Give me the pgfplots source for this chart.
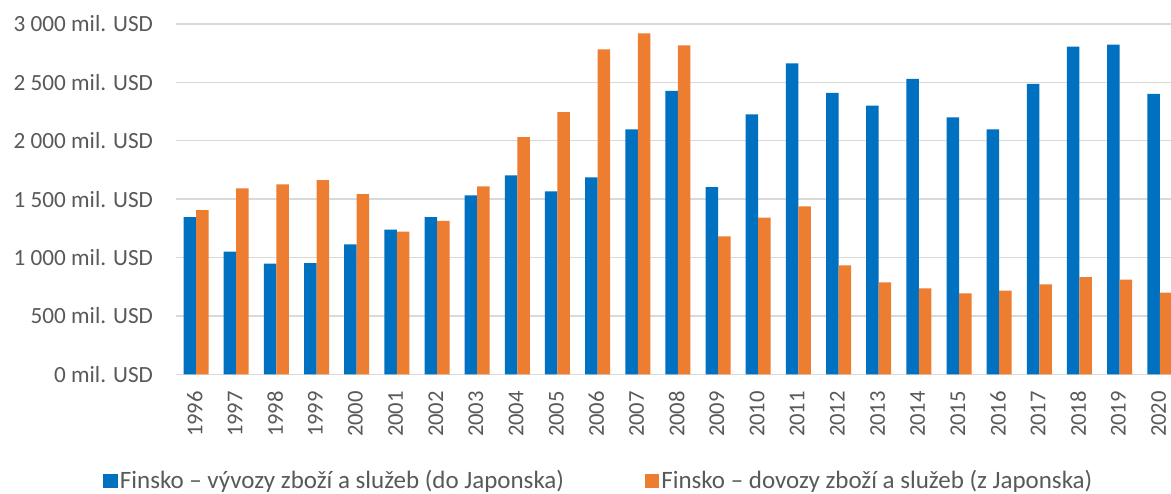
\documentclass[border=0pt]{standalone}
\usepackage{fontspec}
\setmainfont{Carlito}
\usepackage{pgfplots}
\pgfplotsset{compat=1.18}

\definecolor{exblue}{HTML}{0070C0}
\definecolor{imorange}{HTML}{ED7D31}
\definecolor{gridgray}{HTML}{D9D9D9}
\definecolor{txtgray}{HTML}{595959}

\begin{document}
\begin{tikzpicture}
  \begin{axis}[
    at={(0pt,0pt)}, anchor=south west,
    scale only axis,
    width=497.5pt, height=175.15pt,
    xmin=-0.5, xmax=24.28,
    ymin=0, ymax=3000,
    ybar=0pt, bar width=6.25pt,
    axis line style={draw=none},
    axis x line*=bottom,
    ymajorgrids,
    grid style={draw=gridgray, line width=0.7pt},
    major tick length=0pt,
    xtick={0,...,24},
    xticklabels={1996,1997,1998,1999,2000,2001,2002,2003,2004,2005,2006,2007,2008,
      2009,2010,2011,2012,2013,2014,2015,2016,2017,2018,2019,2020},
    ytick={0,500,1000,1500,2000,2500,3000},
    yticklabels={0 mil. USD,500 mil. USD,1 000 mil. USD,1 500 mil. USD,
      2 000 mil. USD,2 500 mil. USD,3 000 mil. USD},
    tick label style={font=\fontsize{11.6}{13}\selectfont, text=txtgray, inner sep=0pt},
    yticklabel style={xshift=-11.3pt},
    xticklabel style={rotate=90, anchor=east, xshift=-8.2pt, yshift=0.6pt,
      font=\fontsize{11.3}{13}\selectfont},
    legend columns=2,
    legend style={at={(axis description cs:0.4251,0)}, anchor=center, yshift=-53.4pt,
      draw=none, fill=none, font=\fontsize{12.5}{14}\selectfont, text=txtgray,
      /tikz/every even column/.append style={column sep=39pt},
      inner sep=0pt, nodes={inner sep=1.2pt}},
    legend image code/.code={\fill[#1] (0pt,-3.6pt) rectangle (7.2pt,3.6pt);},
  ]
    \draw[gridgray, line width=0.7pt] (axis cs:-0.5,0) -- (axis cs:24.28,0);
    \addplot[fill=exblue, draw=none] coordinates {
      (0,1347) (1,1050) (2,947) (3,953) (4,1113) (5,1238) (6,1347) (7,1532)
      (8,1703) (9,1566) (10,1686) (11,2097) (12,2428) (13,1603) (14,2225)
      (15,2662) (16,2411) (17,2300) (18,2531) (19,2200) (20,2097) (21,2488)
      (22,2807) (23,2824) (24,2402)
    };
    \addlegendentry{Finsko – vývozy zboží a služeb (do Japonska)}
    \addplot[fill=imorange, draw=none] coordinates {
      (0,1407) (1,1592) (2,1626) (3,1663) (4,1543) (5,1221) (6,1315) (7,1609)
      (8,2031) (9,2245) (10,2782) (11,2919) (12,2816) (13,1181) (14,1341)
      (15,1438) (16,933) (17,787) (18,736) (19,693) (20,716) (21,770)
      (22,833) (23,810) (24,699)
    };
    \addlegendentry{Finsko – dovozy zboží a služeb (z Japonska)}
  \end{axis}
  \pgfresetboundingbox
  \path[use as bounding box] (-88pt,-59.35pt) rectangle (497.5pt,187.15pt);
\end{tikzpicture}
\end{document}
